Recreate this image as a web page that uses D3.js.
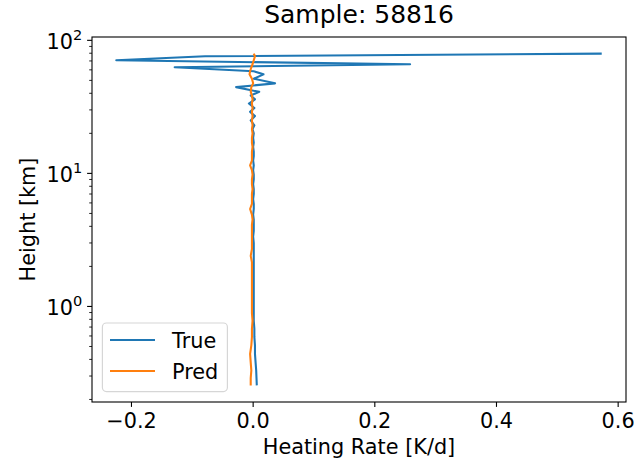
<!DOCTYPE html>
<html>
<head>
<meta charset="utf-8">
<script src="https://cdnjs.cloudflare.com/ajax/libs/d3/7.8.5/d3.min.js"></script>
<style>
  body {margin: 0; background: white;}
  svg {display: block; font-family: "DejaVu Sans", sans-serif;}
</style>
</head>
<body>
<svg id="chart" width="634" height="463"></svg>
<script>
// heights (km), top of profile first
var heights = [79.5, 75.9, 70.8, 66.1, 62.7, 58.5, 55.5, 51.5, 47.5, 44.5,
  41, 38.5, 36, 33.5, 31, 29, 27, 25, 23, 21.5,
  20, 18.5, 17, 15.8, 14.6, 13.5, 12.5, 11.5, 10.6, 9.8,
  9, 8.3, 7.6, 7, 6.4, 5.9, 5.4, 4.9, 4.5, 4.1,
  3.7, 3.35, 3.0, 2.7, 2.4, 2.15, 1.9, 1.7, 1.5, 1.32,
  1.16, 1.02, 0.89, 0.78, 0.68, 0.59, 0.51, 0.44, 0.38, 0.33,
  0.29, 0.255];

var trueRate = [0.573, -0.079, -0.225, 0.258, -0.129, 0.001, 0.017, 0.001, 0.036, -0.028,
  0.010, -0.004, 0.003, -0.007, 0.002, -0.005, 0.003, -0.004, 0.002, -0.001,
  0.001, 0.000, 0.001, 0.000, 0.001, 0.001, 0.000, 0.001, 0.000, 0.001,
  0.001, 0.000, 0.001, 0.001, 0.000, 0.001, 0.001, 0.000, 0.001, 0.001,
  0.001, 0.000, 0.001, 0.001, 0.001, 0.001, 0.001, 0.001, 0.001, 0.001,
  0.001, 0.001, 0.001, 0.001, 0.002, 0.002, 0.003, 0.003, 0.004, 0.005,
  0.0055, 0.006];

var predRate = [0.001, 0.003, 0.001, -0.001, -0.003, -0.005, -0.006, -0.002, 0.000, -0.003,
  -0.004, -0.002, -0.001, -0.002, -0.001, -0.002, -0.001, -0.002, -0.001, -0.002,
  -0.001, -0.002, -0.002, -0.001, -0.002, -0.002, -0.002, -0.005, -0.002, -0.001,
  -0.002, -0.002, -0.001, -0.002, -0.002, -0.002, -0.005, -0.002, -0.001, -0.002,
  -0.002, -0.002, -0.002, -0.002, -0.004, -0.002, -0.002, -0.002, -0.002, -0.002,
  -0.002, -0.002, -0.002, -0.001, -0.002, -0.002, -0.003, -0.005, -0.004, -0.003,
  -0.004, -0.004];

var xTicks = [-0.2, 0.0, 0.2, 0.4, 0.6];
var yTicks = [1, 10, 100];
var seriesNames = ['True', 'Pred'];
var colors = ['#1f77b4', '#ff7f0e'];

var svg = d3.select('#chart');
var plotLeft = 92, plotRight = 626, plotTop = 37, plotBottom = 402;
var fs = 20.8;

// matplotlib style 5% margins
var xAll = trueRate.concat(predRate);
var xMin = d3.min(xAll), xMax = d3.max(xAll);
var xPad = (xMax - xMin) * 0.05;
var x = d3.scaleLinear().domain([xMin - xPad, xMax + xPad]).range([plotLeft, plotRight]);

var lMin = Math.log10(d3.min(heights)), lMax = Math.log10(d3.max(heights));
var lPad = (lMax - lMin) * 0.05;
var y = d3.scaleLog().domain([Math.pow(10, lMin - lPad), Math.pow(10, lMax + lPad)]).range([plotBottom, plotTop]);

// lines
var line = d3.line()
  .x(function(d){ return x(d[0]); })
  .y(function(d){ return y(d[1]); });

[trueRate, predRate].forEach(function(s, i){
  svg.append('path')
    .datum(s.map(function(v, j){ return [v, heights[j]]; }))
    .attr('d', line)
    .attr('fill', 'none')
    .attr('stroke', colors[i])
    .attr('stroke-width', 2.08)
    .attr('stroke-linejoin', 'round');
});

// frame
svg.append('rect')
  .attr('x', plotLeft).attr('y', plotTop)
  .attr('width', plotRight-plotLeft).attr('height', plotBottom-plotTop)
  .attr('fill', 'none').attr('stroke', 'black').attr('stroke-width', 1.1);

// x ticks
xTicks.forEach(function(t){
  var px = x(t);
  svg.append('line').attr('x1', px).attr('x2', px).attr('y1', plotBottom).attr('y2', plotBottom+4.9)
    .attr('stroke', 'black').attr('stroke-width', 1.1);
  svg.append('text').attr('x', px).attr('y', 427.5)
    .attr('text-anchor', 'middle').attr('font-size', fs)
    .text(d3.format('.1f')(t).replace('-', '\u2212'));
});

// y major ticks with superscript labels
yTicks.forEach(function(t){
  var py = y(t);
  svg.append('line').attr('x1', plotLeft-4.9).attr('x2', plotLeft).attr('y1', py).attr('y2', py)
    .attr('stroke', 'black').attr('stroke-width', 1.1);
  var lab = svg.append('text').attr('x', plotLeft-9.8).attr('y', py+8.5)
    .attr('text-anchor', 'end').attr('font-size', fs);
  lab.append('tspan').text('10');
  lab.append('tspan').attr('dy', -8.5).attr('font-size', fs*0.7).text(Math.round(Math.log10(t)));
});

// y minor ticks
var dom = y.domain();
for (var d = -1; d <= 2; d++){
  for (var k = 2; k <= 9; k++){
    var v = k*Math.pow(10, d);
    if (v < dom[0] || v > dom[1]) continue;
    svg.append('line').attr('x1', plotLeft-2.8).attr('x2', plotLeft).attr('y1', y(v)).attr('y2', y(v))
      .attr('stroke', 'black').attr('stroke-width', 0.85);
  }
}

// labels and title
svg.append('text').attr('x', (plotLeft+plotRight)/2).attr('y', 454)
  .attr('text-anchor', 'middle').attr('font-size', fs).text('Heating Rate [K/d]');
svg.append('text').attr('transform', 'translate(35,' + (plotTop+plotBottom)/2 + ') rotate(-90)')
  .attr('text-anchor', 'middle').attr('font-size', fs).text('Height [km]');
svg.append('text').attr('x', (plotLeft+plotRight)/2).attr('y', 23)
  .attr('text-anchor', 'middle').attr('font-size', 25).text('Sample: 58816');

// legend
var lg = svg.append('g');
lg.append('rect').attr('x', 102.4).attr('y', 323).attr('width', 125).attr('height', 68.6)
  .attr('rx', 4).attr('fill', 'white').attr('fill-opacity', 0.8)
  .attr('stroke', '#d6d6d6').attr('stroke-width', 1.2);
seriesNames.forEach(function(n, i){
  var ly = 340 + i*31;
  lg.append('line').attr('x1', 110).attr('x2', 155).attr('y1', ly).attr('y2', ly)
    .attr('stroke', colors[i]).attr('stroke-width', 2.08);
  lg.append('text').attr('x', 172).attr('y', ly+7.5).attr('font-size', fs).text(n);
});
</script>
</body>
</html>
